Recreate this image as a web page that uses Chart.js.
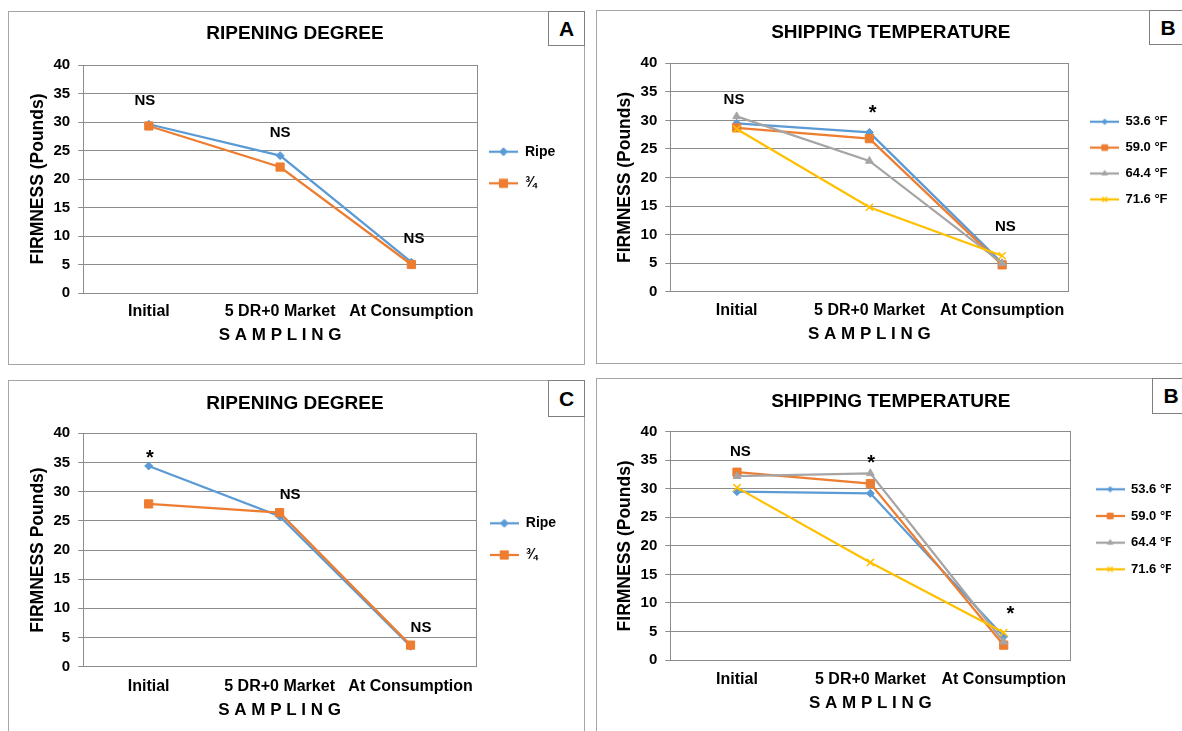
<!DOCTYPE html>
<html lang="en">
  <head>
    <meta charset="UTF-8" />
    <title>Firmness by sampling</title>
    <script src="https://cdn.jsdelivr.net/npm/chart.js"></script>
    <style>
      body {
        margin: 0;
        width: 1182px;
        height: 731px;
        overflow: hidden;
        position: relative;
        background: #fff;
        font-family: 'Liberation Sans', Arial, sans-serif;
      }
      .panel {
        position: absolute;
        border: 1px solid #a6a6a6;
        box-sizing: border-box;
      }
      .tag {
        position: absolute;
        border: 1px solid #7f7f7f;
        box-sizing: border-box;
        background: #fff;
        font-weight: bold;
        font-size: 21px;
        display: flex;
        align-items: center;
        justify-content: center;
      }
      canvas {
        position: absolute;
      }
    </style>
  </head>
  <body>
    <div class="panel" style="left:8px;top:11px;width:577px;height:354px"></div>
    <div class="panel" style="left:596px;top:10px;width:600px;height:354px"></div>
    <div class="panel" style="left:8px;top:380px;width:577px;height:400px"></div>
    <div class="panel" style="left:596px;top:378px;width:600px;height:400px"></div>

    <canvas id="chartA" width="546" height="340" style="left:25px;top:12px"></canvas>
    <canvas id="chartB" width="576" height="340" style="left:605px;top:11px"></canvas>
    <canvas id="chartC" width="546" height="350" style="left:25px;top:381px"></canvas>
    <canvas id="chartD" width="576" height="352" style="left:605px;top:379px"></canvas>

    <div class="tag" style="left:548px;top:11px;width:37px;height:35px">A</div>
    <div class="tag" style="left:1149px;top:10px;width:38px;height:35px">B</div>
    <div class="tag" style="left:548px;top:380px;width:37px;height:37px">C</div>
    <div class="tag" style="left:1152px;top:378px;width:38px;height:36px">B</div>

    <script>
      const categories = ['Initial', '5 DR+0 Market', 'At Consumption']
      const ripenLabels = ['Ripe', '¾']
      const tempLabels = ['53.6 °F', '59.0 °F', '64.4 °F', '71.6 °F']
      const yMin = 0
      const yMax = 40
      const yStep = 5

      // panel A - ripening degree
      const ripeA = [29.6, 24.1, 5.4]
      const quarterA = [29.3, 22.1, 5.0]
      // panel B (top) - shipping temperature
      const t536B = [29.5, 27.9, 5.0]
      const t590B = [28.7, 26.8, 4.7]
      const t644B = [30.7, 22.9, 5.0]
      const t716B = [28.5, 14.8, 6.3]
      // panel C - ripening degree
      const ripeC = [34.4, 25.8, 3.5]
      const quarterC = [27.9, 26.4, 3.7]
      // panel B (bottom) - shipping temperature
      const t536D = [29.5, 29.2, 4.1]
      const t590D = [32.9, 30.9, 2.6]
      const t644D = [32.2, 32.7, 3.2]
      const t716D = [30.2, 17.1, 4.8]

      // significance marks: [text, category position, firmness]
      const notesA = [['NS', -0.03, 33.7], ['NS', 1, 28.1], ['NS', 2.02, 9.5]]
      const notesB = [['NS', -0.02, 33.6], ['*', 1.025, 31.2], ['NS', 2.025, 11.3]]
      const notesC = [['*', 0.01, 35.6], ['NS', 1.08, 29.5], ['NS', 2.08, 6.6]]
      const notesD = [['NS', 0.025, 36.5], ['*', 1.005, 34.5], ['*', 2.05, 8.0]]

      const family = "'Liberation Sans', Arial, sans-serif"
      Chart.defaults.font.family = family
      Chart.defaults.color = '#000'
      const gridColor = '#8c8c8c'

      const blue = { color: '#5B9BD5', pointStyle: 'rectRot', radius: 4 }
      const orange = { color: '#ED7D31', pointStyle: 'rect', radius: 5.8 }
      const gray = { color: '#A5A5A5', pointStyle: 'triangle', radius: 4.5 }
      const yellow = { color: '#FFC000', pointStyle: 'crossRot', radius: 5 }

      function legendIcon(style, w, scale) {
        const c = document.createElement('canvas')
        c.width = Math.round(w)
        c.height = 14
        const g = c.getContext('2d')
        g.strokeStyle = style.color
        g.fillStyle = style.color
        g.lineWidth = 2.25
        g.beginPath()
        g.moveTo(0, 7)
        g.lineTo(c.width, 7)
        g.stroke()
        const bw = style.pointStyle === 'crossRot' ? 1.5 : 1
        g.lineWidth = bw
        if (Chart.helpers && Chart.helpers.drawPoint) {
          Chart.helpers.drawPoint(
            g,
            { pointStyle: style.pointStyle, radius: style.radius * scale, borderWidth: bw, rotation: 0 },
            c.width / 2,
            7
          )
        }
        return c
      }

      function series(label, data, style, i, n) {
        return {
          label,
          data,
          borderColor: style.color,
          backgroundColor: style.color,
          borderWidth: 2.25,
          tension: 0,
          pointStyle: style.pointStyle,
          pointRadius: style.radius,
          pointBackgroundColor: style.color,
          pointBorderColor: style.color,
          pointBorderWidth: style.pointStyle === 'crossRot' ? 1.5 : 1,
          order: n - i,
        }
      }

      function notesPlugin(notes) {
        return {
          id: 'notes',
          afterDatasetsDraw(chart) {
            const { ctx } = chart
            const x = chart.scales.x
            const y = chart.scales.y
            ctx.save()
            ctx.fillStyle = '#000'
            ctx.textAlign = 'center'
            ctx.textBaseline = 'middle'
            notes.forEach(([text, pos, val]) => {
              ctx.font = (text === '*' ? 'bold 20px ' : 'bold 15px ') + family
              ctx.fillText(text, x.getPixelForValue(pos), y.getPixelForValue(val))
            })
            ctx.restore()
          },
        }
      }

      function drawPanel(id, title, yTitle, datasets, styles, notes, L) {
        const icons = styles.map((s) => legendIcon(s, L.boxW, L.iconScale))
        return new Chart(document.getElementById(id), {
          type: 'line',
          data: { labels: categories, datasets },
          plugins: [notesPlugin(notes)],
          options: {
            responsive: false,
            animation: false,
            layout: { padding: { left: L.pl, right: 10, top: 0, bottom: L.pb } },
            plugins: {
              tooltip: { enabled: false },
              title: {
                display: true,
                text: title,
                color: '#000',
                font: { size: 19, weight: 'bold' },
                padding: { top: L.titlePad[0], bottom: L.titlePad[1] },
              },
              legend: {
                position: 'right',
                align: 'start',
                fullSize: false,
                maxWidth: L.legendW,
                title: {
                  display: true,
                  text: '',
                  font: { size: 10, lineHeight: 1 },
                  padding: { top: L.legendTop - 10, bottom: 0 },
                },
                labels: {
                  usePointStyle: true,
                  pointStyleWidth: L.boxW,
                  padding: 10,
                  color: '#000',
                  font: { size: L.legendFont, weight: 'bold', lineHeight: L.legendLine },
                  sort: (a, b) => a.datasetIndex - b.datasetIndex,
                  generateLabels: (chart) =>
                    Chart.defaults.plugins.legend.labels.generateLabels(chart).map((item) => ({
                      ...item,
                      text: [item.text],
                      pointStyle: icons[item.datasetIndex],
                    })),
                },
              },
            },
            scales: {
              x: {
                offset: true,
                grid: { display: false, drawTicks: false },
                border: { display: true, color: gridColor, width: 1 },
                ticks: {
                  font: { size: 16, weight: 'bold' },
                  color: '#000',
                  padding: L.xTickPad,
                  maxRotation: 0,
                  autoSkip: false,
                },
                title: {
                  display: true,
                  text: 'S A M P L I N G',
                  color: '#000',
                  font: { size: 17, weight: 'bold' },
                  padding: { top: 0, bottom: 0 },
                },
                afterFit: (s) => {
                  s.height = L.hX
                },
              },
              y: {
                min: yMin,
                max: yMax,
                grid: { color: gridColor, lineWidth: 1, tickLength: 5, drawTicks: true },
                border: { display: true, color: gridColor, width: 1 },
                ticks: {
                  stepSize: yStep,
                  font: { size: 15, weight: 'bold' },
                  color: '#000',
                  padding: 8,
                },
                title: {
                  display: true,
                  text: yTitle,
                  color: '#000',
                  font: { size: 17.5, weight: 'bold' },
                  padding: { top: L.yTitlePad, bottom: 0 },
                },
                afterFit: (s) => {
                  s.width = L.wY
                },
              },
              y2: {
                position: 'right',
                grid: { display: false },
                ticks: { display: false },
                border: { display: true, color: gridColor, width: 1 },
                afterFit: (s) => {
                  s.width = L.y2W
                },
              },
            },
          },
        })
      }

      const ripeStyles = [blue, orange]
      const tempStyles = [blue, orange, gray, yellow]

      drawPanel(
        'chartA',
        'RIPENING DEGREE',
        'FIRMNESS (Pounds)',
        [ripeA, quarterA].map((d, i) => series(ripenLabels[i], d, ripeStyles[i], i, 2)),
        ripeStyles,
        notesA,
        {
          pl: 4, pb: 6.1, titlePad: [10.2, 20.0], yTitlePad: -1.6, wY: 54.2, xTickPad: 9.1, hX: 52.9,
          y2W: 2, legendW: 82, legendTop: 69.7, legendFont: 14, legendLine: 1.543, boxW: 29, iconScale: 1,
        }
      )

      drawPanel(
        'chartB',
        'SHIPPING TEMPERATURE',
        'FIRMNESS (Pounds)',
        [t536B, t590B, t644B, t716B].map((d, i) => series(tempLabels[i], d, tempStyles[i], i, 4)),
        tempStyles,
        notesB,
        {
          pl: 5.6, pb: 6.5, titlePad: [10.2, 19.3], yTitlePad: 4.3, wY: 59.7, xTickPad: 9.4, hX: 52.8,
          y2W: 12, legendW: 90.5, legendTop: 41.9, legendFont: 13, legendLine: 1.223, boxW: 28.5, iconScale: 0.7,
        }
      )

      drawPanel(
        'chartC',
        'RIPENING DEGREE',
        'FIRMNESS Pounds)',
        [ripeC, quarterC].map((d, i) => series(ripenLabels[i], d, ripeStyles[i], i, 2)),
        ripeStyles,
        notesC,
        {
          pl: 4, pb: 10.1, titlePad: [11.2, 18.3], yTitlePad: -1.6, wY: 54.2, xTickPad: 10.4, hX: 54.2,
          y2W: 3.8, legendW: 81.2, legendTop: 73, legendFont: 14, legendLine: 1.55, boxW: 29, iconScale: 1,
        }
      )

      drawPanel(
        'chartD',
        'SHIPPING TEMPERATURE',
        'FIRMNESS (Pounds)',
        [t536D, t590D, t644D, t716D].map((d, i) => series(tempLabels[i], d, tempStyles[i], i, 4)),
        tempStyles,
        notesD,
        {
          pl: 5.6, pb: 17.5, titlePad: [11.6, 18.3], yTitlePad: 4.3, wY: 59.7, xTickPad: 10.4, hX: 53.5,
          y2W: 15.4, legendW: 85.2, legendTop: 41.1, legendFont: 13, legendLine: 1.282, boxW: 28.7, iconScale: 0.7,
        }
      )
    </script>
  </body>
</html>
